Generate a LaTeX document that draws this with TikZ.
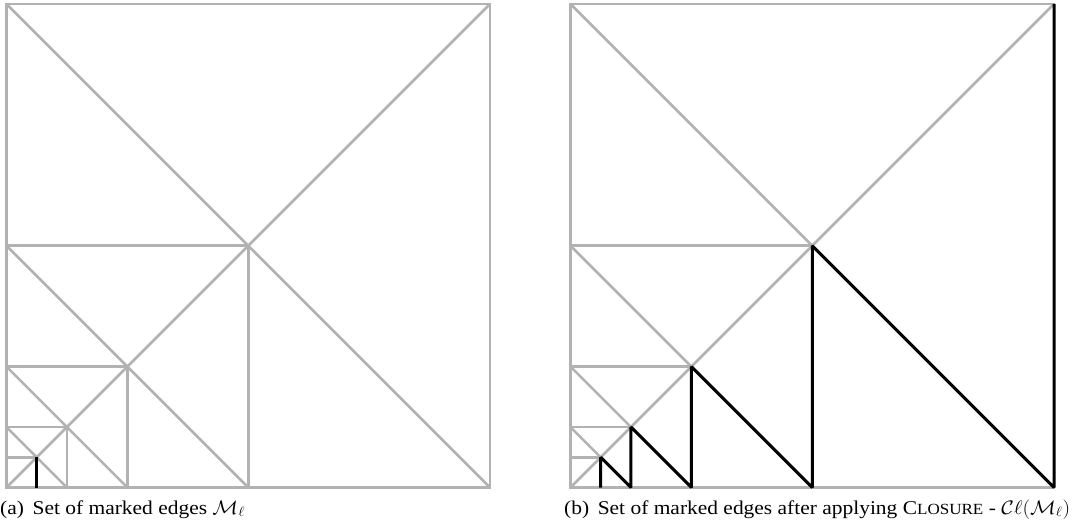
\RequirePackage{fix-cm}
\documentclass[tikz,border=0pt]{standalone}
\usepackage{fontspec}
\setmainfont{Liberation Serif}
\usepackage{tikz}

\definecolor{edgegrey}{RGB}{178,178,178}

\newcommand{\meshside}{483.5}

\tikzset{
  grey edge/.style={draw=edgegrey, line width=2.5pt},
  marked edge/.style={draw=black, line width=3pt, line join=bevel},
  subcap/.style={anchor=base west, inner sep=0pt, xscale=1.1, transform shape,
    font=\fontsize{19.5}{23}\selectfont},
  pics/mesh/.style={code={
    \draw[grey edge] (0,0) rectangle (\meshside,\meshside);
    \draw[grey edge] (0,0) -- (\meshside,\meshside);
    \foreach \k in {0,...,3}{
      \pgfmathsetmacro{\a}{\meshside/2^\k}
      \pgfmathsetmacro{\h}{\a/2}
      \draw[grey edge] (0,\a) -- (\h,\h) -- (\a,0);
      \draw[grey edge] (0,\h) -- (\h,\h) -- (\h,0);
    }
  }}
}

\begin{document}
\begin{tikzpicture}[x=1pt, y=1pt]
  \useasboundingbox (0,0) rectangle (1079,528);

  % (a) marked edges
  \begin{scope}[shift={(6.5,40.5)}]
    \pic {mesh};
    \draw[marked edge] (\meshside/16,0) -- (\meshside/16,\meshside/16);
  \end{scope}

  % (b) after closure
  \begin{scope}[shift={(570.5,40.5)}]
    \pic {mesh};
    \draw[marked edge] (\meshside/16,0) -- (\meshside/16,\meshside/16)
      -- (\meshside/8,0) -- (\meshside/8,\meshside/8)
      -- (\meshside/4,0) -- (\meshside/4,\meshside/4)
      -- (\meshside/2,0) -- (\meshside/2,\meshside/2)
      -- (\meshside,0) -- (\meshside,\meshside);
  \end{scope}

  \node[subcap] (capa) at (0,14) {(a)\hspace{0.4em}Set of marked edges $\mathcal{M}_\ell$};
  \node[subcap] (capb) at (564,14) {(b)\hspace{0.4em}Set of marked edges after applying C{\fontsize{15.5}{18}\selectfont LOSURE} - $\mathcal{C}\ell(\mathcal{M}_\ell)$};
\end{tikzpicture}
\end{document}
